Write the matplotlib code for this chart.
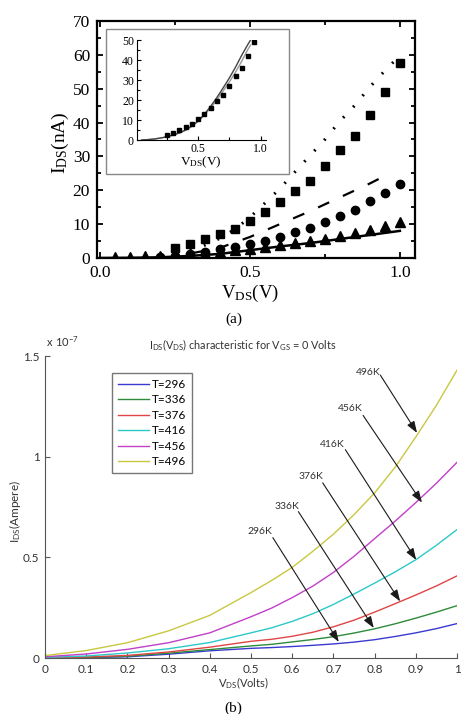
import numpy as np
import matplotlib.pyplot as plt
from matplotlib.patches import Rectangle
from matplotlib.ticker import MultipleLocator

# ---------------- panel (a): measured points and model lines (nA) ----------------
v_tri = [0.05, 0.10, 0.15, 0.20, 0.25, 0.30, 0.35, 0.40, 0.45, 0.50,
         0.55, 0.60, 0.65, 0.70, 0.75, 0.80, 0.85, 0.90, 0.95, 1.00]
i_tri = [0.3, 0.35, 0.5, 0.7, 0.9, 1.2, 1.5, 1.9, 2.3, 2.7,
         3.2, 3.7, 4.3, 4.9, 5.6, 6.4, 7.3, 8.3, 9.4, 10.6]

v_circ = [0.20, 0.25, 0.30, 0.35, 0.40, 0.45, 0.50, 0.55, 0.60,
          0.65, 0.70, 0.75, 0.80, 0.85, 0.90, 0.95, 1.00]
i_circ = [0.4, 0.6, 1.2, 1.9, 2.6, 3.2, 4.2, 5.1, 6.1,
          7.7, 8.9, 10.6, 12.3, 14.3, 16.7, 19.1, 21.9]

v_sq = [0.25, 0.30, 0.35, 0.40, 0.45, 0.50, 0.55, 0.60,
        0.65, 0.70, 0.75, 0.80, 0.85, 0.90, 0.95, 1.00]
i_sq = [3.0, 4.1, 5.7, 7.1, 8.6, 11.0, 13.5, 16.6,
        19.7, 22.6, 27.3, 31.8, 36.1, 42.1, 49.0, 57.6]

v_solid = [0.0, 0.1, 0.2, 0.3, 0.4, 0.5, 0.6, 0.7, 0.8, 0.9, 1.0]
i_solid = [0.0, 0.05, 0.2, 0.6, 1.2, 2.3, 3.4, 4.4, 5.6, 6.8, 8.0]

v_dash = [0.30, 0.40, 0.50, 0.60, 0.70, 0.80, 0.90, 0.96]
i_dash = [1.3, 3.0, 6.2, 10.0, 13.8, 17.9, 22.0, 24.7]

v_dot = [0.30, 0.35, 0.40, 0.45, 0.50, 0.55, 0.60, 0.65,
         0.70, 0.75, 0.80, 0.85, 0.90, 0.95, 0.98]
i_dot = [2.3, 3.8, 5.8, 8.5, 12.0, 16.2, 20.5, 25.4,
         30.2, 35.0, 40.4, 45.1, 50.5, 55.3, 58.0]

# inset
v_in_sq = [0.25, 0.30, 0.35, 0.40, 0.45, 0.50, 0.55, 0.60,
           0.65, 0.70, 0.75, 0.80, 0.85, 0.90, 0.95]
i_in_sq = [2.3, 3.3, 5.0, 6.7, 8.2, 10.5, 12.8, 16.2,
           19.5, 22.3, 27.0, 31.8, 35.8, 42.2, 48.8]
v_in_line = [0.05, 0.10, 0.15, 0.20, 0.25, 0.30, 0.35, 0.40, 0.45, 0.50,
             0.55, 0.60, 0.65, 0.70, 0.75, 0.80, 0.85, 0.90, 0.92]
i_in_line1 = [0.0, 0.2, 0.5, 1.0, 1.6, 2.5, 3.6, 5.0, 7.0, 9.5,
              12.8, 16.8, 21.2, 26.0, 31.0, 36.5, 42.5, 48.0, 50.0]
i_in_line2 = [0.0, 0.2, 0.5, 1.0, 1.6, 2.4, 3.4, 4.8, 6.8, 9.3,
              12.4, 16.0, 20.0, 24.5, 29.0, 34.0, 39.5, 45.5, 47.5]

# ---------------- panel (b): simulated curves (x 1e-7 A) ----------------
v_sim = [0.0, 0.1, 0.2, 0.3, 0.4, 0.5, 0.55, 0.6, 0.65, 0.7,
         0.75, 0.8, 0.85, 0.9, 0.95, 1.0]
temps = ['T=296', 'T=336', 'T=376', 'T=416', 'T=456', 'T=496']
i_296 = [0.0, 0.002, 0.006, 0.019, 0.036, 0.048, 0.052, 0.057, 0.063, 0.070,
         0.079, 0.091, 0.107, 0.125, 0.146, 0.171]
i_336 = [0.001, 0.003, 0.009, 0.024, 0.042, 0.060, 0.068, 0.080, 0.092, 0.106,
         0.124, 0.145, 0.170, 0.198, 0.228, 0.260]
i_376 = [0.002, 0.005, 0.013, 0.030, 0.054, 0.083, 0.093, 0.108, 0.128, 0.155,
         0.188, 0.228, 0.270, 0.313, 0.358, 0.408]
i_416 = [0.003, 0.010, 0.025, 0.046, 0.077, 0.125, 0.150, 0.182, 0.220, 0.266,
         0.318, 0.372, 0.428, 0.488, 0.560, 0.638]
i_456 = [0.006, 0.020, 0.043, 0.076, 0.125, 0.205, 0.248, 0.300, 0.357, 0.425,
         0.505, 0.593, 0.680, 0.772, 0.868, 0.972]
i_496 = [0.012, 0.037, 0.076, 0.135, 0.212, 0.325, 0.385, 0.450, 0.530, 0.615,
         0.712, 0.820, 0.948, 1.098, 1.255, 1.430]
curves_b = [i_296, i_336, i_376, i_416, i_456, i_496]
colors_b = ['#3a3ad0', '#2e8b3a', '#e04545', '#2cc8c8', '#c040c8', '#c8c840']

ann_labels = ['496K', '456K', '416K', '376K', '336K', '296K']
ann_text = [(0.785, 1.417), (0.741, 1.239), (0.698, 1.062),
            (0.645, 0.900), (0.587, 0.755), (0.522, 0.628)]
ann_start = [(0.814, 1.405), (0.772, 1.205), (0.729, 1.035),
             (0.674, 0.870), (0.615, 0.727), (0.553, 0.598)]
ann_end = [(0.903, 1.118), (0.915, 0.772), (0.901, 0.487),
           (0.862, 0.281), (0.798, 0.149), (0.713, 0.080)]

fig = plt.figure(figsize=(4.62, 7.14), dpi=100)

serif = 'Liberation Serif'
sans = 'Lato'

# ---------- (a) main ----------
ax = fig.add_axes([0.21, 0.6387, 0.688, 0.332])
ax.plot(v_solid, i_solid, color='black', lw=1.8)
ax.plot(v_dash, i_dash, color='black', lw=1.6, dashes=(5.5, 6.8))
ax.plot(v_dot, i_dot, color='black', lw=2.2, dashes=(0.6, 4.2))
ax.plot(v_tri, i_tri, '^', color='black', ms=6.5)
ax.plot(v_circ, i_circ, 'o', color='black', ms=6)
ax.plot(v_sq, i_sq, 's', color='black', ms=5.5)
ax.set_xlim(-0.01, 1.05)
ax.set_ylim(0, 70)
ax.xaxis.set_major_locator(MultipleLocator(0.5))
ax.xaxis.set_minor_locator(MultipleLocator(0.25))
ax.yaxis.set_major_locator(MultipleLocator(10))
ax.yaxis.set_minor_locator(MultipleLocator(5))
ax.xaxis.set_major_formatter(plt.FuncFormatter(lambda v, p: f'{v:.1f}'))
ax.tick_params(which='both', direction='in', top=True, right=True, width=1.3,
               labelsize=12.5, labelfontfamily=serif, colors='black')
ax.tick_params(which='major', length=4)
ax.tick_params(which='minor', length=3)
ax.tick_params(axis='x', pad=5)
ax.tick_params(axis='y', pad=5)
for s in ax.spines.values():
    s.set_linewidth(1.6)
fig.text(0.13, 0.80, r'$\mathregular{I_{DS}}$(nA)', rotation=90, ha='center', va='center',
         fontsize=14, family=serif)
fig.text(0.541, 0.589, r'$\mathregular{V_{DS}}$(V)', ha='center', va='center',
         fontsize=13.5, family=serif)
fig.text(0.506, 0.563, '(a)', ha='center', va='top', fontsize=11, family=serif)

# ---------- (a) inset ----------
fig.add_artist(Rectangle((0.229, 0.7563), 0.396, 0.203, transform=fig.transFigure,
                         facecolor='white', edgecolor='#888888', lw=1, zorder=2))
ins = fig.add_axes([0.2959, 0.8039, 0.279, 0.140], zorder=3)
ins.patch.set_alpha(0)
ins.plot(v_in_line, i_in_line2, color='#999999', lw=1.0)
ins.plot(v_in_line, i_in_line1, color='#444444', lw=1.0)
ins.plot(v_in_sq, i_in_sq, 's', color='black', ms=3)
ins.set_xlim(0.01, 1.04)
ins.set_ylim(0, 50)
ins.spines['top'].set_visible(False)
ins.spines['right'].set_visible(False)
ins.xaxis.set_major_locator(MultipleLocator(0.5))
ins.xaxis.set_minor_locator(MultipleLocator(0.25))
ins.yaxis.set_major_locator(MultipleLocator(10))
ins.yaxis.set_minor_locator(MultipleLocator(5))
ins.xaxis.set_major_formatter(plt.FuncFormatter(lambda v, p: f'{v:.1f}'))
ins.tick_params(which='both', direction='in', width=0.8, labelsize=8.5, pad=2,
                labelfontfamily=serif)
ins.tick_params(which='major', length=3)
ins.tick_params(which='minor', length=2)
ins.set_xlabel(r'$\mathregular{V_{DS}}$(V)', fontsize=9.5, family=serif, labelpad=0)

# ---------- (b) ----------
bx = fig.add_axes([0.0974, 0.0784, 0.8918, 0.423])
for vals, lab, col in zip(curves_b, temps, colors_b):
    bx.plot(v_sim, vals, color=col, lw=1.0, label=lab)
for lab, tpos, s, e in zip(ann_labels, ann_text, ann_start, ann_end):
    bx.text(tpos[0], tpos[1], lab, ha='center', va='center', fontsize=7.5,
            family=sans, color='#333333')
    bx.annotate('', xy=e, xytext=s,
                arrowprops=dict(arrowstyle='-|>,head_length=0.7,head_width=0.25',
                                color='#1a1a1a', lw=0.8, shrinkA=0, shrinkB=0))
bx.set_xlim(0, 1)
bx.set_ylim(0, 1.5)
bx.set_xticks([0, 0.1, 0.2, 0.3, 0.4, 0.5, 0.6, 0.7, 0.8, 0.9, 1.0])
bx.set_xticklabels(['0', '0.1', '0.2', '0.3', '0.4', '0.5', '0.6', '0.7', '0.8', '0.9', '1'])
bx.set_yticks([0, 0.5, 1, 1.5])
bx.set_yticklabels(['0', '0.5', '1', '1.5'])
bx.spines['top'].set_visible(False)
bx.spines['right'].set_visible(False)
for s in ['left', 'bottom']:
    bx.spines[s].set_color('#555555')
    bx.spines[s].set_linewidth(0.8)
bx.tick_params(direction='in', length=3.5, width=0.8, color='#555555',
               labelsize=8.5, labelcolor='#333333', pad=4, labelfontfamily=sans)
leg = bx.legend(loc='upper left', bbox_to_anchor=(0.2424, 0.4776),
                bbox_transform=fig.transFigure, fancybox=False, frameon=True,
                prop={'family': sans, 'size': 8.5}, handlelength=2.6,
                labelspacing=0.38, borderpad=0.5, handletextpad=0.3,
                borderaxespad=0)
leg.get_frame().set_edgecolor('#555555')
leg.get_frame().set_linewidth(1.0)

fig.text(0.526, 0.517, r'$\mathregular{I_{DS}(V_{DS})}$ characteristic for $\mathregular{V_{GS}}$ = 0 Volts',
         ha='center', va='center', fontsize=7.8, family=sans, color='#333333')
fig.text(0.1, 0.521, r'$\mathregular{x\ 10^{-7}}$', ha='left', va='center',
         fontsize=8, family=sans, color='#333333')
fig.text(0.032, 0.283, r'$\mathregular{I_{DS}}$(Ampere)', rotation=90, ha='center',
         va='center', fontsize=8.5, family=sans, color='#333333')
fig.text(0.526, 0.0434, r'$\mathregular{V_{DS}}$(Volts)', ha='center', va='center',
         fontsize=8, family=sans, color='#333333')
fig.text(0.506, 0.018, '(b)', ha='center', va='top', fontsize=11, family=serif)

fig.savefig('out.png', dpi=100)
